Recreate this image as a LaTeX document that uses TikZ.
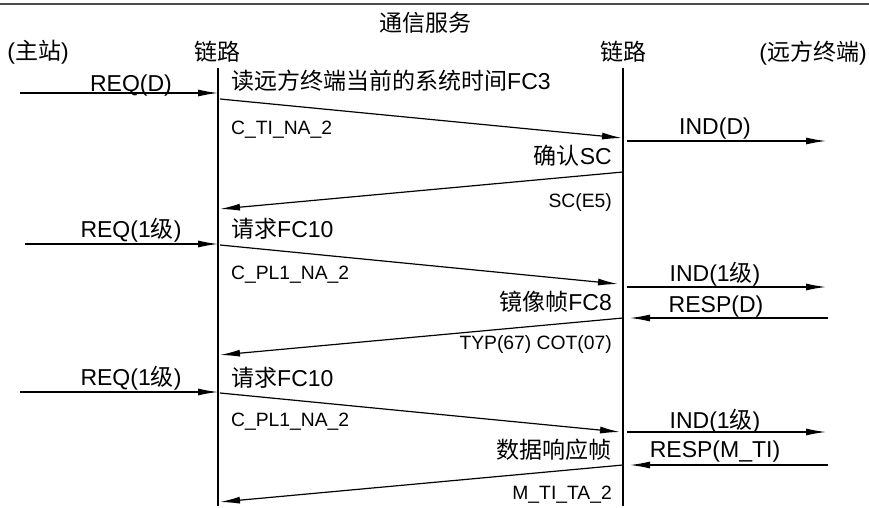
\documentclass[tikz,border=0pt]{standalone}
\usepackage{fontspec}
\setmainfont{Liberation Sans}
\newfontfamily\zhfont{Noto Sans CJK SC}
\newcommand{\zh}[1]{{\zhfont #1}}
\usetikzlibrary{arrows.meta}

\begin{document}
\begin{tikzpicture}[x=1pt,y=-1pt,
	big/.style={inner sep=0pt, font=\fontsize{23}{25}\selectfont},
	small/.style={inner sep=0pt, font=\fontsize{19.3}{21}\selectfont},
	life/.style={line width=1.4pt},
	msg/.style={line width=1.2pt, -{Latex[length=20pt,width=7pt]}}]
	\useasboundingbox (0,0) rectangle (869,508);
	%\draw[help lines, step=50] (0,0) grid (869,508);

	\draw[line width=2pt, black!70] (0,4) -- (869,4);

	% heads
	\node[big] (title) at (425,23) {\zh{通信服务}};
	\node[big] (master) at (38,52) {(\zh{主站})};
	\node[big] (linkA) at (217,52) {\zh{链路}};
	\node[big] (linkB) at (623,52) {\zh{链路}};
	\node[big] (remote) at (813,53) {(\zh{远方终端})};

	% life lines
	\coordinate (A0) at (218,68);
	\coordinate (A9) at (218,506);
	\coordinate (B0) at (623,68);
	\coordinate (B9) at (623,506);
	\draw[life] (A0) -- (A9);
	\draw[life] (B0) -- (B9);

	% FC3
	\coordinate (m1) at (20,93);
	\coordinate (a1) at (218,93);
	\coordinate (a1s) at (220,99);
	\coordinate (b1) at (622,138);
	\coordinate (b1s) at (627,141);
	\coordinate (r1) at (826,141);
	\coordinate (b2) at (623,172);
	\coordinate (a2) at (220,209);
	\draw[msg] (m1) -- (a1);
	\draw[msg] (a1s) -- (b1);
	\draw[msg] (b1s) -- (r1);
	\draw[msg] (b2) -- (a2);
	\node[big] (req1) at (131,86) {REQ(D)};
	\node[big, anchor=west] (fc3) at (231,81) {\zh{读远方终端当前的系统时间}FC3};
	\node[small, anchor=west] (asdu1) at (231,130) {C\_TI\_NA\_2};
	\node[big] (ind1) at (715,129) {IND(D)};
	\node[big, anchor=east] (sc) at (612,156) {\zh{确认}SC};
	\node[small, anchor=east] (sce5) at (612,203) {SC(E5)};

	% FC10 / FC8
	\coordinate (m2) at (25,244);
	\coordinate (a3) at (218,244);
	\coordinate (a3s) at (220,245);
	\coordinate (b3) at (618,284);
	\coordinate (b3s) at (627,287);
	\coordinate (r3) at (826,287);
	\coordinate (r4) at (828,318);
	\coordinate (b4) at (630,318);
	\coordinate (b4s) at (623,318);
	\coordinate (a4) at (220,355);
	\draw[msg] (m2) -- (a3);
	\draw[msg] (a3s) -- (b3);
	\draw[msg] (b3s) -- (r3);
	\draw[msg] (r4) -- (b4);
	\draw[msg] (b4s) -- (a4);
	\node[big] (req2) at (131,230) {REQ(1\zh{级})};
	\node[big, anchor=west] (fc10a) at (231,229) {\zh{请求}FC10};
	\node[small, anchor=west] (asdu2) at (231,275) {C\_PL1\_NA\_2};
	\node[big] (ind2) at (715,274) {IND(1\zh{级})};
	\node[big] (resp2) at (716,307) {RESP(D)};
	\node[big, anchor=east] (fc8) at (612,302) {\zh{镜像帧}FC8};
	\node[small, anchor=east] (typ) at (612,345) {TYP(67) COT(07)};

	% FC10 / data
	\coordinate (m3) at (20,392);
	\coordinate (a5) at (218,392);
	\coordinate (a5s) at (220,393);
	\coordinate (b5) at (620,432);
	\coordinate (b5s) at (627,432);
	\coordinate (r5) at (826,432);
	\coordinate (r6) at (828,465);
	\coordinate (b6) at (630,465);
	\coordinate (b6s) at (623,465);
	\coordinate (a6) at (220,502);
	\draw[msg] (m3) -- (a5);
	\draw[msg] (a5s) -- (b5);
	\draw[msg] (b5s) -- (r5);
	\draw[msg] (r6) -- (b6);
	\draw[msg] (b6s) -- (a6);
	\node[big] (req3) at (131,378) {REQ(1\zh{级})};
	\node[big, anchor=west] (fc10b) at (231,378) {\zh{请求}FC10};
	\node[small, anchor=west] (asdu3) at (231,422) {C\_PL1\_NA\_2};
	\node[big] (ind3) at (715,421) {IND(1\zh{级})};
	\node[big] (resp3) at (715,452) {RESP(M\_TI)};
	\node[big, anchor=east] (data) at (612,450) {\zh{数据响应帧}};
	\node[small, anchor=east] (mti) at (612,495) {M\_TI\_TA\_2};
\end{tikzpicture}
\end{document}
